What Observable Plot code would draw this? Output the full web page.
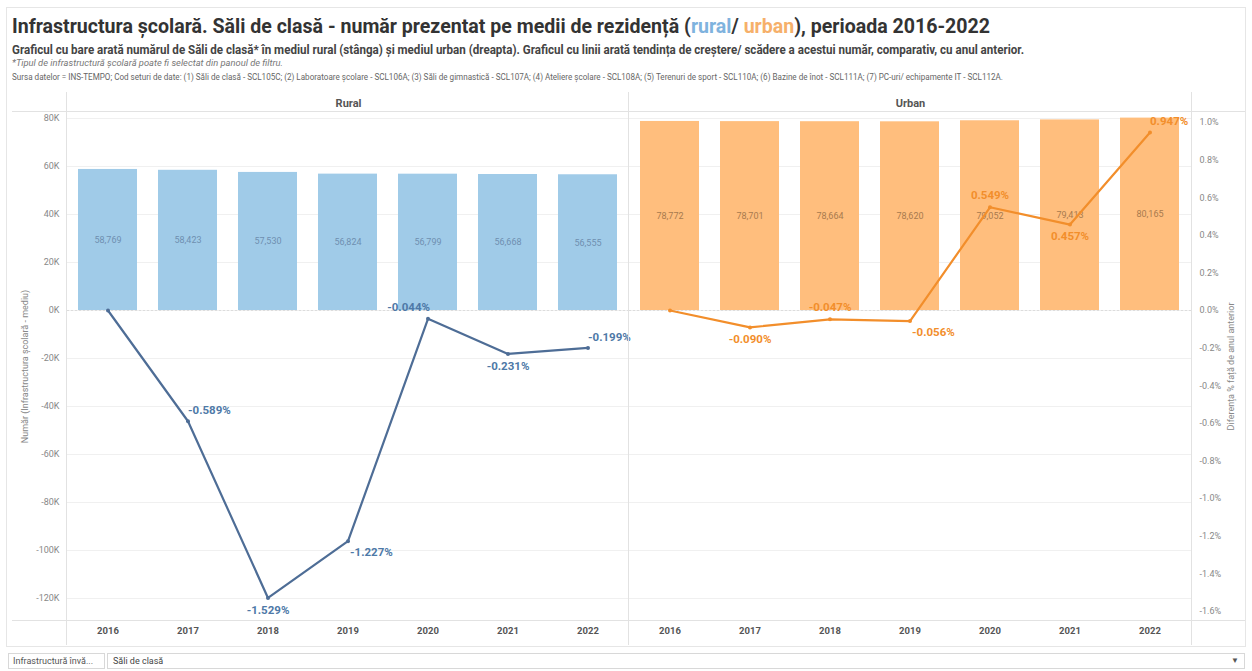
<!DOCTYPE html>
<html>
<head>
<meta charset="utf-8">
<script src="https://cdn.jsdelivr.net/npm/d3@7"></script>
<script src="https://cdn.jsdelivr.net/npm/@observablehq/plot@0.6"></script>
<style>
  html, body { margin: 0; padding: 0; background: #fff; }
  body { width: 1252px; height: 671px; position: relative; overflow: hidden;
         font-family: "Roboto", "Noto Sans", sans-serif; }
  .abs { position: absolute; white-space: nowrap; }
  .fit { transform-origin: 0 0; }
  #title { left: 12px; top: 14px; font-size: 21px; font-weight: bold; color: #333; }
  #subtitle { left: 12px; top: 42px; font-size: 12.5px; font-weight: bold; color: #444; }
  #note { left: 12px; top: 58px; font-size: 9px; font-style: italic; color: #777; }
  #source { left: 12px; top: 71px; font-size: 9.5px; color: #666; }
  .rural { color: #7fb3de; }
  .urban { color: #f6b06a; }
  .hl { position: absolute; height: 1px; background: #e2e2e2; }
  .vl { position: absolute; width: 1px; background: #e2e2e2; }
  #chart1, #chart2 { position: absolute; left: 0; top: 88px; }
  #chart2 { pointer-events: none; }
  #border { position: absolute; left: 6px; top: 7px; width: 1240px; height: 640px; border: 1px solid #e6e6e6; box-sizing: border-box; }
  #filterLabel { left: 8px; top: 653px; width: 97px; height: 16px; border: 1px solid #d8d8d8; box-sizing: border-box; font-size: 9px; color: #555; padding: 2px 4px; overflow: hidden; }
  #filterBox { left: 107px; top: 653px; width: 1138px; height: 16px; border: 1px solid #d8d8d8; box-sizing: border-box; font-size: 9px; color: #444; padding: 2px 5px; }
  #filterArrow { right: 5px; top: 2px; font-size: 8px; color: #555; }
  svg g[aria-label="x-axis tick label"] text { font-weight: bold; }
</style>
</head>
<body>
<div id="border"></div>
<div id="title" class="abs fit" data-w="978">Infrastructura școlară. Săli de clasă - număr prezentat pe medii de rezidență (<span class="rural">rural</span>/ <span class="urban">urban</span>), perioada 2016-2022</div>
<div id="subtitle" class="abs fit" data-w="1012">Graficul cu bare arată numărul de Săli de clasă* în mediul rural (stânga) și mediul urban (dreapta). Graficul cu linii arată tendința de creștere/ scădere a acestui număr, comparativ, cu anul anterior.</div>
<div id="note" class="abs fit" data-w="271">*Tipul de infrastructură școlară poate fi selectat din panoul de filtru.</div>
<div id="source" class="abs fit" data-w="991">Sursa datelor = INS-TEMPO; Cod seturi de date: (1) Săli de clasă - SCL105C; (2) Laboratoare școlare - SCL106A; (3) Săli de gimnastică - SCL107A; (4) Ateliere școlare - SCL108A; (5) Terenuri de sport - SCL110A; (6) Bazine de înot - SCL111A; (7) PC-uri/ echipamente IT - SCL112A.</div>
<div id="chart1"></div>
<div id="chart2"></div>
<div class="hl" style="left:12px; top:111px; width:1233px;"></div>
<div class="hl" style="left:12px; top:620px; width:1233px;"></div>
<div class="vl" style="left:66px; top:92px; height:553px;"></div>
<div class="vl" style="left:628px; top:92px; height:553px;"></div>
<div class="vl" style="left:1191px; top:92px; height:553px;"></div>
<div id="filterLabel" class="abs">Infrastructură învă...</div>
<div id="filterBox" class="abs">Săli de clasă<span id="filterArrow" class="abs">▼</span></div>
<script>
// ---- data ----
const years = ["2016", "2017", "2018", "2019", "2020", "2021", "2022"];
const panels = ["Rural", "Urban"];
const ruralCount = [58769, 58423, 57530, 56824, 56799, 56668, 56555];
const urbanCount = [78772, 78701, 78664, 78620, 79052, 79413, 80165];
const ruralPct = [0, -0.589, -1.529, -1.227, -0.044, -0.231, -0.199];
const urbanPct = [0, -0.090, -0.047, -0.056, 0.549, 0.457, 0.947];
const leftTicks = [-120000, -100000, -80000, -60000, -40000, -20000, 0, 20000, 40000, 60000, 80000];
const rightTicks = [-1.6, -1.4, -1.2, -1.0, -0.8, -0.6, -0.4, -0.2, 0, 0.2, 0.4, 0.6, 0.8, 1.0];

// label placement (style only)
const placement = {
  Rural: [null, "aboveRight", "below", "belowRight", "aboveLeft", "below", "aboveRight"],
  Urban: [null, "below", "above", "belowRight", "above", "below", "aboveRight"]
};

const countByPanel = {Rural: ruralCount, Urban: urbanCount};
const pctByPanel = {Rural: ruralPct, Urban: urbanPct};
const bars = panels.flatMap(p => years.map((y, i) => ({panel: p, year: y, value: countByPanel[p][i]})));
const lines = panels.flatMap(p => years.map((y, i) => ({panel: p, year: y, pct: pctByPanel[p][i], place: placement[p][i]})));

const barColor = {Rural: "#a0cbe8", Urban: "#ffbe7d"};
const barText = {Rural: "#6f8fb0", Urban: "#a87a4e"};
const lineColor = {Rural: "#4e6d96", Urban: "#f28e2b"};
const pctText = {Rural: "#4e79a7", Urban: "#f28e2b"};

// fit header texts to their measured widths (condensed look)
document.querySelectorAll(".fit").forEach(el => {
  const w = el.getBoundingClientRect().width;
  el.style.transform = `scaleX(${(+el.dataset.w) / w})`;
});

const W = 1252, H = 560;
const common = {
  width: W, height: H,
  marginLeft: 66, marginRight: 61, marginTop: 24, marginBottom: 28,
  style: {fontFamily: 'Roboto, "Noto Sans", sans-serif', fontSize: "9px", color: "#888", background: "transparent", overflow: "visible"}
};
const xScale = {type: "band", domain: years, paddingInner: 0.26, paddingOuter: 0.14, align: 0.5};
const fmt = d3.format(",");

const plot1 = Plot.plot({
  ...common,
  fx: {domain: panels, padding: 0, label: null, axis: null},
  x: {...xScale, axis: null},
  y: {domain: [-129170, 82500], axis: null},
  marks: [
    Plot.gridY(leftTicks, {stroke: "#f0f0f0", strokeOpacity: 1}),
    Plot.ruleY([0], {stroke: "#dcdcdc", strokeDasharray: "2,2"}),
    Plot.barY(bars, {fx: "panel", x: "year", y: "value", fill: d => barColor[d.panel]}),
    Plot.text(bars, {fx: "panel", x: "year", y: d => d.value / 2, text: d => fmt(d.value), fill: d => barText[d.panel], fontSize: 9}),
    Plot.axisFx({anchor: "top", tickSize: 0, tickPadding: 6, label: null, fontSize: 11, fontWeight: "bold", fill: "#555"}),
    Plot.axisX({anchor: "bottom", tickSize: 0, tickPadding: 7, label: null, fontSize: 9.5, fontWeight: "bold", fill: "#555"}),
    Plot.axisY({anchor: "left", ticks: leftTicks, tickFormat: d => (d / 1000) + "K", tickSize: 0, tickPadding: 8,
      label: "Număr (Infrastructura școlară - mediu)", labelAnchor: "center", labelArrow: "none", labelOffset: 46, fill: "#888"})
  ]
});
document.getElementById("chart1").append(plot1);

function pctLabels(place, opts) {
  return Plot.text(lines.filter(d => d.place === place), {
    fx: "panel", x: "year", y: "pct",
    text: d => d.pct.toFixed(3) + "%",
    fill: d => pctText[d.panel], fontSize: 11.5, fontWeight: "bold",
    ...opts
  });
}

const plot2 = Plot.plot({
  ...common,
  fx: {domain: panels, padding: 0, label: null, axis: null},
  x: {...xScale, axis: null},
  y: {domain: [-1.6489, 1.0532], axis: null},
  marks: [
    Plot.line(lines, {fx: "panel", x: "year", y: "pct", stroke: d => lineColor[d.panel], strokeWidth: 2.2}),
    Plot.dot(lines, {fx: "panel", x: "year", y: "pct", fill: d => lineColor[d.panel], r: 2}),
    pctLabels("aboveRight", {textAnchor: "start", dx: 0, dy: -11}),
    pctLabels("aboveLeft", {textAnchor: "end", dx: 2, dy: -11}),
    pctLabels("above", {dy: -12}),
    pctLabels("below", {dy: 12}),
    pctLabels("belowRight", {textAnchor: "start", dx: 2, dy: 11}),
    Plot.axisY({anchor: "right", ticks: rightTicks, tickFormat: d => d.toFixed(1) + "%", tickSize: 0, tickPadding: 8,
      label: "Diferența % față de anul anterior", labelAnchor: "center", labelArrow: "none", labelOffset: 42, fill: "#888"})
  ]
});
document.getElementById("chart2").append(plot2);
</script>
</body>
</html>
